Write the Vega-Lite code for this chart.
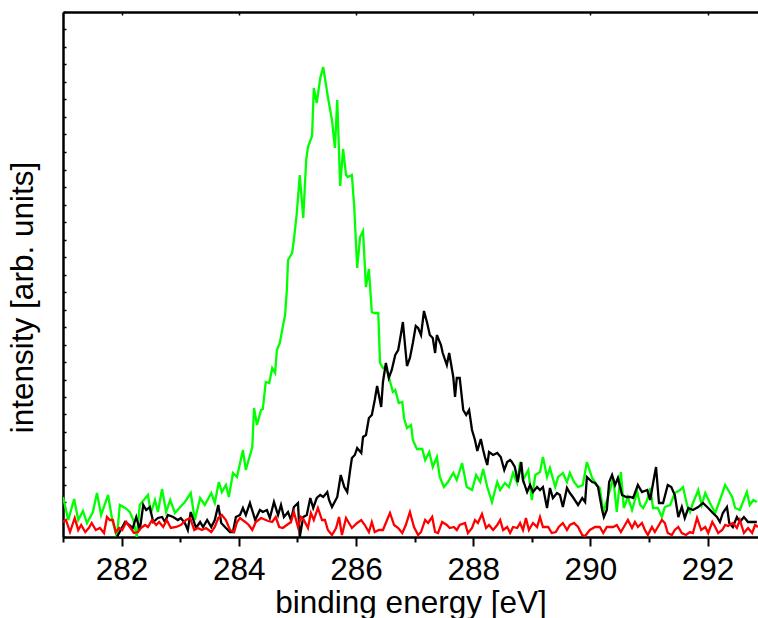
{
  "$schema": "https://vega.github.io/schema/vega-lite/v6.json",
  "width": 695,
  "height": 525,
  "autosize": {"type": "none"},
  "padding": {"left": 63, "top": 12, "right": 0, "bottom": 81},
  "config": {"view": {"stroke": null}, "font": "Liberation Sans"},
  "datasets": {
    "green": [
      {"e":281.00,"v":40},{"e":281.09,"v":17},{"e":281.19,"v":38},{"e":281.26,"v":17},{"e":281.34,"v":26},{"e":281.41,"v":14},{"e":281.51,"v":25},{"e":281.58,"v":44},{"e":281.65,"v":22},{"e":281.77,"v":42},{"e":281.84,"v":17},{"e":281.92,"v":0},{"e":281.97,"v":32},{"e":282.06,"v":29},{"e":282.14,"v":25},{"e":282.20,"v":17},{"e":282.26,"v":0},{"e":282.31,"v":32},{"e":282.45,"v":42},{"e":282.50,"v":24},{"e":282.57,"v":37},{"e":282.62,"v":25},{"e":282.69,"v":48},{"e":282.76,"v":25},{"e":282.83,"v":37},{"e":282.91,"v":24},{"e":283.00,"v":30},{"e":283.08,"v":35},{"e":283.18,"v":44},{"e":283.25,"v":17},{"e":283.34,"v":39},{"e":283.42,"v":32},{"e":283.53,"v":44},{"e":283.59,"v":34},{"e":283.66,"v":55},{"e":283.71,"v":45},{"e":283.78,"v":52},{"e":283.83,"v":40},{"e":283.90,"v":64},{"e":283.97,"v":60},{"e":284.07,"v":87},{"e":284.12,"v":67},{"e":284.23,"v":90},{"e":284.26,"v":129},{"e":284.31,"v":112},{"e":284.38,"v":127},{"e":284.41,"v":128},{"e":284.46,"v":155},{"e":284.52,"v":154},{"e":284.57,"v":169},{"e":284.62,"v":164},{"e":284.65,"v":187},{"e":284.70,"v":194},{"e":284.75,"v":210},{"e":284.79,"v":222},{"e":284.82,"v":247},{"e":284.84,"v":277},{"e":284.91,"v":284},{"e":284.94,"v":297},{"e":284.99,"v":324},{"e":285.04,"v":362},{"e":285.10,"v":319},{"e":285.15,"v":377},{"e":285.18,"v":390},{"e":285.25,"v":401},{"e":285.28,"v":449},{"e":285.33,"v":434},{"e":285.39,"v":459},{"e":285.44,"v":470},{"e":285.52,"v":440},{"e":285.59,"v":417},{"e":285.64,"v":389},{"e":285.68,"v":437},{"e":285.73,"v":351},{"e":285.78,"v":388},{"e":285.83,"v":362},{"e":285.86,"v":360},{"e":285.93,"v":362},{"e":285.97,"v":330},{"e":286.02,"v":269},{"e":286.07,"v":300},{"e":286.12,"v":306},{"e":286.17,"v":250},{"e":286.22,"v":268},{"e":286.27,"v":225},{"e":286.31,"v":224},{"e":286.38,"v":224},{"e":286.41,"v":174},{"e":286.46,"v":169},{"e":286.51,"v":170},{"e":286.56,"v":160},{"e":286.63,"v":145},{"e":286.67,"v":147},{"e":286.73,"v":134},{"e":286.79,"v":135},{"e":286.82,"v":119},{"e":286.87,"v":109},{"e":286.94,"v":112},{"e":286.97,"v":97},{"e":287.04,"v":88},{"e":287.13,"v":88},{"e":287.18,"v":77},{"e":287.25,"v":85},{"e":287.31,"v":70},{"e":287.38,"v":80},{"e":287.43,"v":60},{"e":287.50,"v":50},{"e":287.57,"v":55},{"e":287.66,"v":64},{"e":287.72,"v":57},{"e":287.81,"v":74},{"e":287.89,"v":50},{"e":287.98,"v":47},{"e":288.05,"v":62},{"e":288.12,"v":55},{"e":288.17,"v":68},{"e":288.24,"v":50},{"e":288.32,"v":35},{"e":288.41,"v":55},{"e":288.46,"v":47},{"e":288.54,"v":54},{"e":288.61,"v":50},{"e":288.68,"v":64},{"e":288.75,"v":54},{"e":288.80,"v":75},{"e":288.85,"v":57},{"e":288.94,"v":67},{"e":289.00,"v":37},{"e":289.06,"v":62},{"e":289.14,"v":65},{"e":289.19,"v":80},{"e":289.26,"v":60},{"e":289.31,"v":69},{"e":289.40,"v":50},{"e":289.45,"v":60},{"e":289.53,"v":64},{"e":289.60,"v":55},{"e":289.65,"v":64},{"e":289.72,"v":55},{"e":289.79,"v":50},{"e":289.87,"v":52},{"e":289.94,"v":75},{"e":290.03,"v":59},{"e":290.11,"v":52},{"e":290.16,"v":49},{"e":290.22,"v":25},{"e":290.30,"v":40},{"e":290.39,"v":59},{"e":290.45,"v":25},{"e":290.52,"v":65},{"e":290.57,"v":29},{"e":290.64,"v":40},{"e":290.71,"v":27},{"e":290.80,"v":45},{"e":290.85,"v":32},{"e":290.90,"v":29},{"e":290.97,"v":37},{"e":291.02,"v":49},{"e":291.07,"v":29},{"e":291.15,"v":29},{"e":291.22,"v":20},{"e":291.27,"v":30},{"e":291.36,"v":32},{"e":291.44,"v":44},{"e":291.53,"v":47},{"e":291.58,"v":50},{"e":291.65,"v":32},{"e":291.70,"v":25},{"e":291.75,"v":34},{"e":291.84,"v":47},{"e":291.90,"v":32},{"e":291.96,"v":44},{"e":292.04,"v":34},{"e":292.13,"v":24},{"e":292.21,"v":37},{"e":292.30,"v":52},{"e":292.35,"v":47},{"e":292.42,"v":40},{"e":292.47,"v":29},{"e":292.55,"v":27},{"e":292.67,"v":45},{"e":292.72,"v":32},{"e":292.78,"v":37},{"e":292.84,"v":35}
    ],
    "black": [
      {"e":281.92,"v":0},{"e":282.06,"v":15},{"e":282.13,"v":12},{"e":282.19,"v":9},{"e":282.25,"v":20},{"e":282.31,"v":7},{"e":282.37,"v":32},{"e":282.42,"v":27},{"e":282.48,"v":30},{"e":282.54,"v":15},{"e":282.62,"v":19},{"e":282.69,"v":20},{"e":282.74,"v":15},{"e":282.79,"v":22},{"e":282.88,"v":20},{"e":282.96,"v":17},{"e":283.01,"v":19},{"e":283.08,"v":14},{"e":283.13,"v":7},{"e":283.18,"v":25},{"e":283.27,"v":9},{"e":283.34,"v":15},{"e":283.39,"v":10},{"e":283.46,"v":17},{"e":283.53,"v":10},{"e":283.59,"v":17},{"e":283.65,"v":32},{"e":283.70,"v":14},{"e":283.78,"v":9},{"e":283.85,"v":5},{"e":283.90,"v":5},{"e":283.95,"v":20},{"e":284.02,"v":22},{"e":284.07,"v":29},{"e":284.12,"v":22},{"e":284.19,"v":34},{"e":284.28,"v":17},{"e":284.36,"v":27},{"e":284.41,"v":25},{"e":284.48,"v":27},{"e":284.53,"v":19},{"e":284.60,"v":35},{"e":284.67,"v":22},{"e":284.72,"v":32},{"e":284.77,"v":20},{"e":284.84,"v":25},{"e":284.89,"v":17},{"e":284.94,"v":30},{"e":285.01,"v":34},{"e":285.04,"v":0},{"e":285.10,"v":20},{"e":285.16,"v":22},{"e":285.22,"v":39},{"e":285.27,"v":29},{"e":285.33,"v":39},{"e":285.39,"v":42},{"e":285.44,"v":40},{"e":285.51,"v":45},{"e":285.54,"v":37},{"e":285.59,"v":30},{"e":285.68,"v":40},{"e":285.74,"v":62},{"e":285.80,"v":50},{"e":285.85,"v":45},{"e":285.90,"v":67},{"e":285.93,"v":79},{"e":285.98,"v":82},{"e":286.02,"v":89},{"e":286.09,"v":84},{"e":286.12,"v":100},{"e":286.17,"v":102},{"e":286.22,"v":119},{"e":286.27,"v":122},{"e":286.32,"v":137},{"e":286.36,"v":151},{"e":286.43,"v":130},{"e":286.46,"v":155},{"e":286.51,"v":174},{"e":286.56,"v":159},{"e":286.61,"v":167},{"e":286.67,"v":182},{"e":286.72,"v":187},{"e":286.77,"v":204},{"e":286.80,"v":215},{"e":286.87,"v":171},{"e":286.92,"v":179},{"e":286.97,"v":194},{"e":287.02,"v":211},{"e":287.06,"v":209},{"e":287.11,"v":202},{"e":287.16,"v":226},{"e":287.21,"v":215},{"e":287.26,"v":202},{"e":287.31,"v":199},{"e":287.35,"v":184},{"e":287.38,"v":202},{"e":287.45,"v":192},{"e":287.48,"v":184},{"e":287.55,"v":172},{"e":287.59,"v":184},{"e":287.66,"v":160},{"e":287.69,"v":140},{"e":287.72,"v":159},{"e":287.77,"v":159},{"e":287.83,"v":127},{"e":287.88,"v":122},{"e":287.93,"v":127},{"e":287.98,"v":107},{"e":288.03,"v":97},{"e":288.07,"v":86},{"e":288.13,"v":98},{"e":288.17,"v":87},{"e":288.20,"v":80},{"e":288.24,"v":72},{"e":288.27,"v":85},{"e":288.34,"v":82},{"e":288.41,"v":84},{"e":288.47,"v":80},{"e":288.53,"v":67},{"e":288.58,"v":75},{"e":288.63,"v":77},{"e":288.66,"v":75},{"e":288.71,"v":70},{"e":288.76,"v":55},{"e":288.82,"v":75},{"e":288.85,"v":57},{"e":288.92,"v":45},{"e":288.97,"v":52},{"e":289.02,"v":45},{"e":289.09,"v":50},{"e":289.14,"v":47},{"e":289.19,"v":50},{"e":289.26,"v":29},{"e":289.31,"v":49},{"e":289.36,"v":39},{"e":289.43,"v":44},{"e":289.48,"v":42},{"e":289.53,"v":30},{"e":289.60,"v":49},{"e":289.65,"v":44},{"e":289.70,"v":40},{"e":289.79,"v":32},{"e":289.86,"v":39},{"e":289.91,"v":35},{"e":289.94,"v":60},{"e":290.03,"v":55},{"e":290.08,"v":54},{"e":290.13,"v":50},{"e":290.20,"v":27},{"e":290.23,"v":20},{"e":290.28,"v":27},{"e":290.32,"v":55},{"e":290.37,"v":62},{"e":290.42,"v":52},{"e":290.47,"v":59},{"e":290.54,"v":42},{"e":290.61,"v":40},{"e":290.68,"v":40},{"e":290.73,"v":39},{"e":290.81,"v":52},{"e":290.88,"v":45},{"e":290.97,"v":47},{"e":291.02,"v":37},{"e":291.07,"v":54},{"e":291.12,"v":70},{"e":291.17,"v":34},{"e":291.24,"v":34},{"e":291.32,"v":52},{"e":291.38,"v":50},{"e":291.44,"v":42},{"e":291.50,"v":20},{"e":291.56,"v":30},{"e":291.61,"v":19},{"e":291.67,"v":29},{"e":291.75,"v":27},{"e":291.84,"v":30},{"e":291.92,"v":34},{"e":292.01,"v":29},{"e":292.09,"v":24},{"e":292.16,"v":20},{"e":292.21,"v":15},{"e":292.26,"v":24},{"e":292.33,"v":30},{"e":292.37,"v":14},{"e":292.43,"v":10},{"e":292.50,"v":20},{"e":292.55,"v":15},{"e":292.62,"v":20},{"e":292.69,"v":15},{"e":292.78,"v":15},{"e":292.84,"v":15}
    ],
    "red": [
      {"e":281.00,"v":15},{"e":281.05,"v":17},{"e":281.12,"v":5},{"e":281.20,"v":19},{"e":281.26,"v":7},{"e":281.31,"v":12},{"e":281.38,"v":5},{"e":281.44,"v":9},{"e":281.49,"v":14},{"e":281.56,"v":7},{"e":281.63,"v":9},{"e":281.70,"v":4},{"e":281.75,"v":20},{"e":281.80,"v":17},{"e":281.85,"v":17},{"e":281.90,"v":5},{"e":281.96,"v":9},{"e":282.01,"v":7},{"e":282.08,"v":15},{"e":282.14,"v":10},{"e":282.21,"v":4},{"e":282.28,"v":5},{"e":282.33,"v":9},{"e":282.40,"v":12},{"e":282.45,"v":10},{"e":282.52,"v":17},{"e":282.59,"v":12},{"e":282.64,"v":15},{"e":282.71,"v":10},{"e":282.77,"v":17},{"e":282.84,"v":9},{"e":282.93,"v":10},{"e":283.01,"v":12},{"e":283.10,"v":17},{"e":283.17,"v":19},{"e":283.24,"v":7},{"e":283.30,"v":9},{"e":283.37,"v":7},{"e":283.44,"v":9},{"e":283.53,"v":5},{"e":283.59,"v":10},{"e":283.65,"v":19},{"e":283.71,"v":22},{"e":283.78,"v":17},{"e":283.85,"v":7},{"e":283.92,"v":5},{"e":283.97,"v":15},{"e":284.02,"v":19},{"e":284.11,"v":15},{"e":284.17,"v":12},{"e":284.23,"v":7},{"e":284.29,"v":15},{"e":284.38,"v":19},{"e":284.50,"v":16},{"e":284.57,"v":15},{"e":284.63,"v":20},{"e":284.69,"v":10},{"e":284.75,"v":9},{"e":284.82,"v":12},{"e":284.89,"v":15},{"e":284.94,"v":25},{"e":285.01,"v":10},{"e":285.06,"v":20},{"e":285.11,"v":17},{"e":285.18,"v":9},{"e":285.23,"v":24},{"e":285.28,"v":17},{"e":285.35,"v":29},{"e":285.42,"v":17},{"e":285.47,"v":17},{"e":285.52,"v":7},{"e":285.59,"v":2},{"e":285.66,"v":9},{"e":285.71,"v":20},{"e":285.76,"v":2},{"e":285.83,"v":19},{"e":285.88,"v":14},{"e":285.93,"v":9},{"e":286.02,"v":14},{"e":286.09,"v":17},{"e":286.15,"v":12},{"e":286.22,"v":5},{"e":286.27,"v":15},{"e":286.32,"v":5},{"e":286.39,"v":7},{"e":286.46,"v":7},{"e":286.53,"v":17},{"e":286.58,"v":24},{"e":286.65,"v":12},{"e":286.72,"v":9},{"e":286.79,"v":4},{"e":286.85,"v":12},{"e":286.92,"v":25},{"e":286.99,"v":10},{"e":287.06,"v":2},{"e":287.11,"v":5},{"e":287.18,"v":17},{"e":287.23,"v":14},{"e":287.30,"v":20},{"e":287.35,"v":5},{"e":287.40,"v":4},{"e":287.47,"v":15},{"e":287.55,"v":12},{"e":287.60,"v":9},{"e":287.67,"v":10},{"e":287.72,"v":7},{"e":287.77,"v":12},{"e":287.86,"v":14},{"e":287.91,"v":4},{"e":287.98,"v":9},{"e":288.03,"v":17},{"e":288.08,"v":14},{"e":288.15,"v":23},{"e":288.22,"v":9},{"e":288.27,"v":12},{"e":288.34,"v":7},{"e":288.41,"v":12},{"e":288.46,"v":17},{"e":288.51,"v":7},{"e":288.58,"v":10},{"e":288.63,"v":4},{"e":288.68,"v":10},{"e":288.75,"v":9},{"e":288.80,"v":14},{"e":288.85,"v":7},{"e":288.90,"v":19},{"e":288.95,"v":7},{"e":289.02,"v":14},{"e":289.09,"v":10},{"e":289.14,"v":20},{"e":289.19,"v":10},{"e":289.28,"v":10},{"e":289.34,"v":4},{"e":289.41,"v":5},{"e":289.46,"v":10},{"e":289.53,"v":14},{"e":289.60,"v":7},{"e":289.65,"v":12},{"e":289.72,"v":14},{"e":289.79,"v":10},{"e":289.86,"v":2},{"e":289.91,"v":1},{"e":289.99,"v":7},{"e":290.08,"v":10},{"e":290.16,"v":10},{"e":290.22,"v":4},{"e":290.28,"v":10},{"e":290.39,"v":10},{"e":290.45,"v":12},{"e":290.52,"v":5},{"e":290.59,"v":12},{"e":290.64,"v":17},{"e":290.71,"v":9},{"e":290.76,"v":15},{"e":290.81,"v":10},{"e":290.88,"v":14},{"e":290.93,"v":7},{"e":290.98,"v":2},{"e":291.05,"v":10},{"e":291.10,"v":5},{"e":291.15,"v":10},{"e":291.22,"v":17},{"e":291.27,"v":14},{"e":291.32,"v":4},{"e":291.39,"v":2},{"e":291.44,"v":7},{"e":291.50,"v":10},{"e":291.56,"v":4},{"e":291.63,"v":2},{"e":291.70,"v":5},{"e":291.75,"v":4},{"e":291.82,"v":19},{"e":291.89,"v":7},{"e":291.96,"v":10},{"e":292.01,"v":4},{"e":292.08,"v":15},{"e":292.13,"v":10},{"e":292.18,"v":4},{"e":292.25,"v":7},{"e":292.30,"v":12},{"e":292.35,"v":11},{"e":292.43,"v":14},{"e":292.50,"v":9},{"e":292.55,"v":17},{"e":292.62,"v":4},{"e":292.69,"v":9},{"e":292.76,"v":4},{"e":292.81,"v":12},{"e":292.86,"v":10}
    ]
  },
  "encoding": {
    "y": {
      "field": "v", "type": "quantitative",
      "scale": {"domain": [0, 525], "nice": false, "zero": false},
      "axis": {
        "orient": "left",
        "values": [0,17.5,35,52.5,70,87.5,105,122.5,140,157.5,175,192.5,210,227.5,245,262.5,280,297.5,315,332.5,350,367.5,385,402.5,420,437.5,455,472.5,490,507.5,525],
        "labels": false, "grid": false,
        "domainColor": "black", "domainWidth": 2.5,
        "tickColor": "black", "tickWidth": 1.5, "tickSize": -3,
        "title": "intensity [arb. units]",
        "titleFont": "Liberation Sans", "titleFontSize": 31.5, "titleFontWeight": "normal", "titleColor": "black",
        "titleAngle": 270, "titleBaseline": "alphabetic", "titleAlign": "center",
        "titleX": -31, "titleY": 285
      }
    }
  },
  "layer": [
    {
      "data": {"name": "green"},
      "mark": {"type": "line", "color": "#00ff00", "strokeWidth": 2.3, "clip": true},
      "encoding": {
        "x": {
          "field": "e", "type": "quantitative",
          "scale": {"domain": [281, 292.86], "nice": false, "zero": false},
          "axis": {
            "orient": "bottom",
            "values": [281,282,283,284,285,286,287,288,289,290,291,292],
            "labelExpr": "datum.value % 2 === 0 ? datum.label : ''",
            "grid": false,
            "domainColor": "black", "domainWidth": 2.5,
            "tickColor": "black", "tickWidth": 2,
            "tickSize": {"condition": {"test": "datum.value % 2 === 1", "value": 5}, "value": 9},
            "labelFont": "Liberation Sans", "labelFontSize": 31.5, "labelColor": "black",
            "labelPadding": 8, "labelFlush": false, "labelOverlap": false,
            "title": "binding energy [eV]",
            "titleFont": "Liberation Sans", "titleFontSize": 31.5, "titleFontWeight": "normal", "titleColor": "black",
            "titleBaseline": "alphabetic", "titleY": 75
          }
        }
      }
    },
    {
      "data": {"name": "black"},
      "mark": {"type": "line", "color": "#000000", "strokeWidth": 2.3, "clip": true},
      "encoding": {
        "x": {
          "field": "e", "type": "quantitative",
          "axis": {
            "orient": "top",
            "values": [282,284,286,288,290,292],
            "labels": false, "grid": false, "title": null,
            "domainColor": "black", "domainWidth": 2.5,
            "tickColor": "black", "tickWidth": 1.5, "tickSize": -3
          }
        }
      }
    },
    {
      "data": {"name": "red"},
      "mark": {"type": "line", "color": "#ff0000", "strokeWidth": 2.3, "clip": true},
      "encoding": {
        "x": {"field": "e", "type": "quantitative", "axis": null}
      }
    }
  ],
  "resolve": {"axis": {"x": "independent"}}
}
